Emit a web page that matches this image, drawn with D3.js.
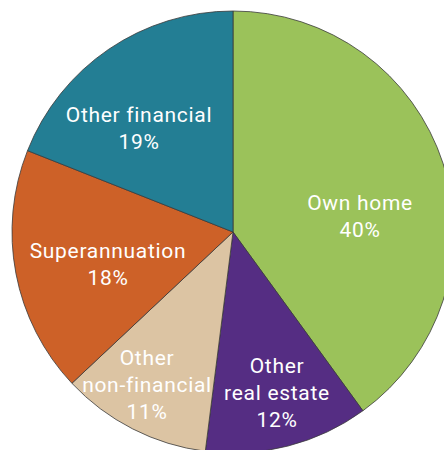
<!DOCTYPE html>
<html>
<head>
<meta charset="utf-8">
<script src="https://cdn.jsdelivr.net/npm/d3@7"></script>
<style>
  body { margin: 0; background: #fff; overflow: hidden; }
</style>
</head>
<body>
<script>
// Asset shares
const categories = ["Own home", "Other real estate", "Other non-financial", "Superannuation", "Other financial"];
const shares = [40, 12, 11, 18, 19];
const colors = ["#9bc25a", "#552d83", "#dcc4a3", "#cd6128", "#237e94"];
// label lines for each slice
const labelLines = [
    ["Own home", "40%"],
    ["Other", "real estate", "12%"],
    ["Other", "non-financial", "11%"],
    ["Superannuation", "18%"],
    ["Other financial", "19%"]
];

const width = 444;
const height = 450;
const cx = 233, cy = 232, radius = 221;

// where each label block sits, relative to the pie centre (first baseline)
const labelOffsets = [[127, -22], [44, 141], [-86, 133], [-125, 26], [-94, -110]];
const lineHeight = 27;

const svg = d3.select("body").append("svg")
    .attr("width", width)
    .attr("height", height);

const g = svg.append("g").attr("transform", `translate(${cx},${cy})`);

const pie = d3.pie().sort(null).value(d => d);
const arc = d3.arc().innerRadius(0).outerRadius(radius);

const arcs = pie(shares);

g.selectAll("path")
    .data(arcs)
    .join("path")
    .attr("d", arc)
    .attr("fill", (d, i) => colors[i])
    .attr("stroke", "#3a3a3a")
    .attr("stroke-width", 0.8);

const labels = g.selectAll("text.label")
    .data(arcs)
    .join("text")
    .attr("class", "label")
    .attr("text-anchor", "middle")
    .attr("fill", "#fff")
    .style("font-family", "Roboto, sans-serif")
    .style("font-size", "21px")
    .style("letter-spacing", "0.7px")
    .attr("transform", (d, i) => `translate(${labelOffsets[i][0]},${labelOffsets[i][1]})`);

labels.selectAll("tspan")
    .data((d, i) => labelLines[i])
    .join("tspan")
    .attr("x", 0)
    .attr("y", (d, j) => j * lineHeight)
    .text(d => d);
</script>
</body>
</html>
